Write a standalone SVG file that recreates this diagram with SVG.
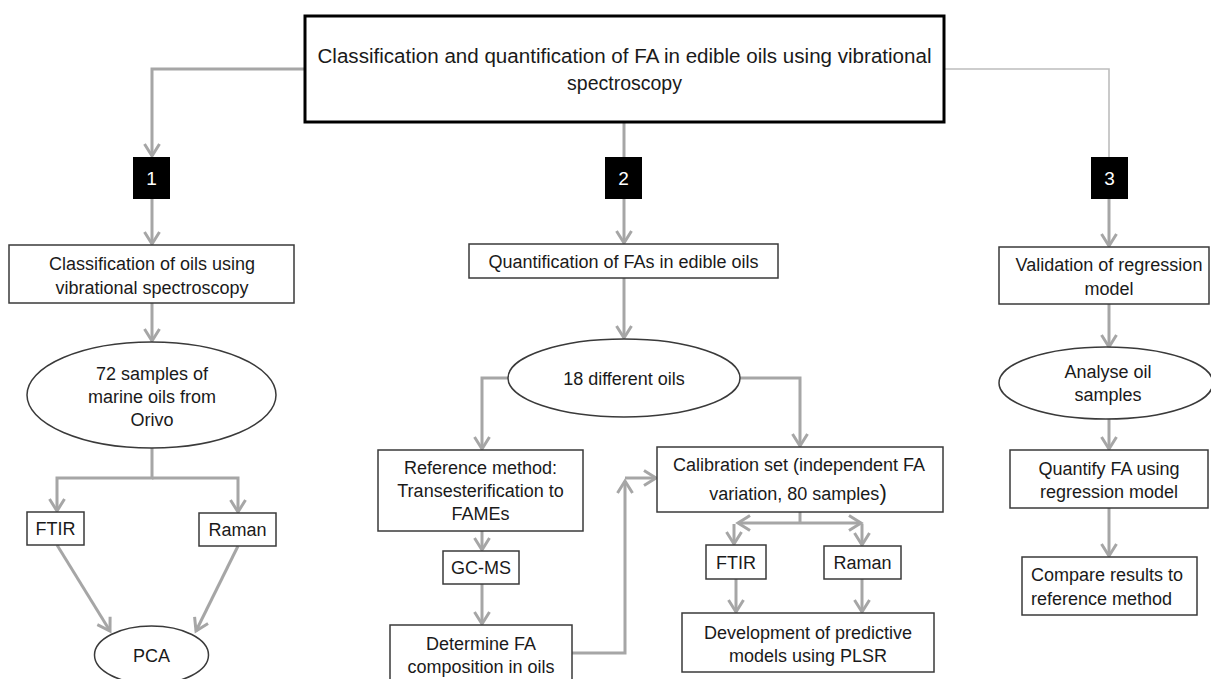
<svg xmlns="http://www.w3.org/2000/svg" width="1211" height="679" viewBox="0 0 1211 679">
<style>
text{font-family:"Liberation Sans",Arial,sans-serif;font-size:18px;fill:#1a1a1a;text-anchor:middle}
.box{fill:#fff;stroke:#3a3a3a;stroke-width:1.5}
.badge{fill:#000}
.bt{fill:#fff;font-size:19px}
.c{fill:none;stroke:#a6a6a6;stroke-width:3}
.ca{fill:none;stroke:#a6a6a6;stroke-width:3;marker-end:url(#ah)}
.thin{fill:none;stroke:#bdbdbd;stroke-width:1.6}
</style>
<defs>
<marker id="ah" markerUnits="userSpaceOnUse" orient="auto" markerWidth="18" markerHeight="20" viewBox="-15 -10 18 20" refX="0" refY="0">
<path d="M-12,-7.5 L0,0 L-12,7.5" fill="none" stroke="#a6a6a6" stroke-width="3"/>
</marker>
</defs>
<g id="connectors">
<path class="ca" d="M305,69 H152 V156"/>
<path class="c" d="M624,122 V157"/>
<path class="thin" d="M944,69 H1109 V157"/>
<path class="ca" d="M152,199 V244"/>
<path class="ca" d="M152,303 V341"/>
<path class="ca" d="M152,448 V478 H57 V511"/>
<path class="ca" d="M152,478 H238 V512"/>
<path class="ca" d="M57,545 L110,631"/>
<path class="ca" d="M238,546 L196,631"/>
<path class="ca" d="M624,199 V243"/>
<path class="ca" d="M624,278 V338"/>
<path class="ca" d="M508,378 H482 V449"/>
<path class="ca" d="M740,378 H800 V446"/>
<path class="ca" d="M482,531 V550"/>
<path class="ca" d="M482,584 V624"/>
<path class="ca" d="M572,653 H625 V481"/>
<path class="ca" d="M625,478 H656"/>
<path class="c" d="M800,512 V523"/>
<path class="ca" d="M800,523 H738"/>
<path class="ca" d="M800,523 H861"/>
<path class="ca" d="M734,524 V544"/>
<path class="ca" d="M862,524 V545"/>
<path class="ca" d="M736,579 V612"/>
<path class="ca" d="M862,579 V612"/>
<path class="ca" d="M1109,199 V246"/>
<path class="ca" d="M1109,304 V347"/>
<path class="ca" d="M1109,419 V449"/>
<path class="ca" d="M1109,508 V556"/>
</g>
<g id="title">
<rect x="305" y="16" width="639" height="106" fill="#fff" stroke="#000" stroke-width="3"/>
<text x="624.5" y="63" style="font-size:19.5px" textLength="614" lengthAdjust="spacingAndGlyphs">Classification and quantification of FA in edible oils using vibrational</text>
<text x="624.5" y="90" style="font-size:19.5px">spectroscopy</text>
</g>
<g id="badge1"><rect class="badge" x="133" y="157" width="37" height="42"/><text class="bt" x="151.5" y="185">1</text></g>
<g id="badge2"><rect class="badge" x="605" y="157" width="37" height="42"/><text class="bt" x="623.5" y="185">2</text></g>
<g id="badge3"><rect class="badge" x="1091" y="157" width="37" height="42"/><text class="bt" x="1109.5" y="185">3</text></g>
<g id="classification">
<rect class="box" x="9" y="245" width="285" height="58"/>
<text x="152" y="269.5">Classification of oils using</text>
<text x="152" y="293.5">vibrational spectroscopy</text>
</g>
<g id="samples72">
<ellipse class="box" cx="151.5" cy="395" rx="124.5" ry="53"/>
<text x="152" y="379.5">72 samples of</text>
<text x="152" y="402.5">marine oils from</text>
<text x="152" y="425.5">Orivo</text>
</g>
<g id="ftir1"><rect class="box" x="27" y="512" width="57" height="33"/><text x="55.5" y="535">FTIR</text></g>
<g id="raman1"><rect class="box" x="199" y="513" width="77" height="33"/><text x="237.5" y="536">Raman</text></g>
<g id="pca"><ellipse class="box" cx="151.5" cy="655" rx="57" ry="29"/><text x="151.5" y="661.5">PCA</text></g>
<g id="quantification">
<rect class="box" x="469" y="244" width="309" height="34"/>
<text x="623.5" y="268">Quantification of FAs in edible oils</text>
</g>
<g id="oils18"><ellipse class="box" cx="624" cy="378" rx="116" ry="39"/><text x="624" y="384.5">18 different oils</text></g>
<g id="reference">
<rect class="box" x="378" y="450" width="205" height="81"/>
<text x="480.5" y="473.5">Reference method:</text>
<text x="480.5" y="496.5">Transesterification to</text>
<text x="480.5" y="519.5">FAMEs</text>
</g>
<g id="gcms"><rect class="box" x="443" y="551" width="76" height="33"/><text x="481" y="574">GC-MS</text></g>
<g id="determine">
<rect class="box" x="390" y="625" width="182" height="62"/>
<text x="481" y="649.5">Determine FA</text>
<text x="481" y="672.5">composition in oils</text>
</g>
<g id="calibration">
<rect class="box" x="657" y="447" width="286" height="65"/>
<text x="799" y="470.5">Calibration set (independent FA</text>
<text x="798" y="499.5">variation, 80 samples<tspan style="font-size:22px">)</tspan></text>
</g>
<g id="ftir2"><rect class="box" x="706" y="545" width="60" height="34"/><text x="736" y="568.5">FTIR</text></g>
<g id="raman2"><rect class="box" x="824" y="546" width="77" height="33"/><text x="862.5" y="568.5">Raman</text></g>
<g id="development">
<rect class="box" x="682" y="613" width="252" height="59"/>
<text x="808" y="638.5">Development of predictive</text>
<text x="808" y="661.5">models using PLSR</text>
</g>
<g id="validation">
<rect class="box" x="999" y="247" width="210" height="57"/>
<text x="1109" y="270.5">Validation of regression</text>
<text x="1109" y="294.5">model</text>
</g>
<g id="analyse">
<ellipse class="box" cx="1106" cy="383" rx="107" ry="36"/>
<text x="1108" y="377.5">Analyse oil</text>
<text x="1108" y="400.5">samples</text>
</g>
<g id="quantify">
<rect class="box" x="1010" y="450" width="198" height="58"/>
<text x="1109" y="474.5">Quantify FA using</text>
<text x="1109" y="497.5">regression model</text>
</g>
<g id="compare">
<rect class="box" x="1022" y="557" width="175" height="58"/>
<text x="1031" y="580.5" style="text-anchor:start">Compare results to</text>
<text x="1031" y="604.5" style="text-anchor:start">reference method</text>
</g>
</svg>
